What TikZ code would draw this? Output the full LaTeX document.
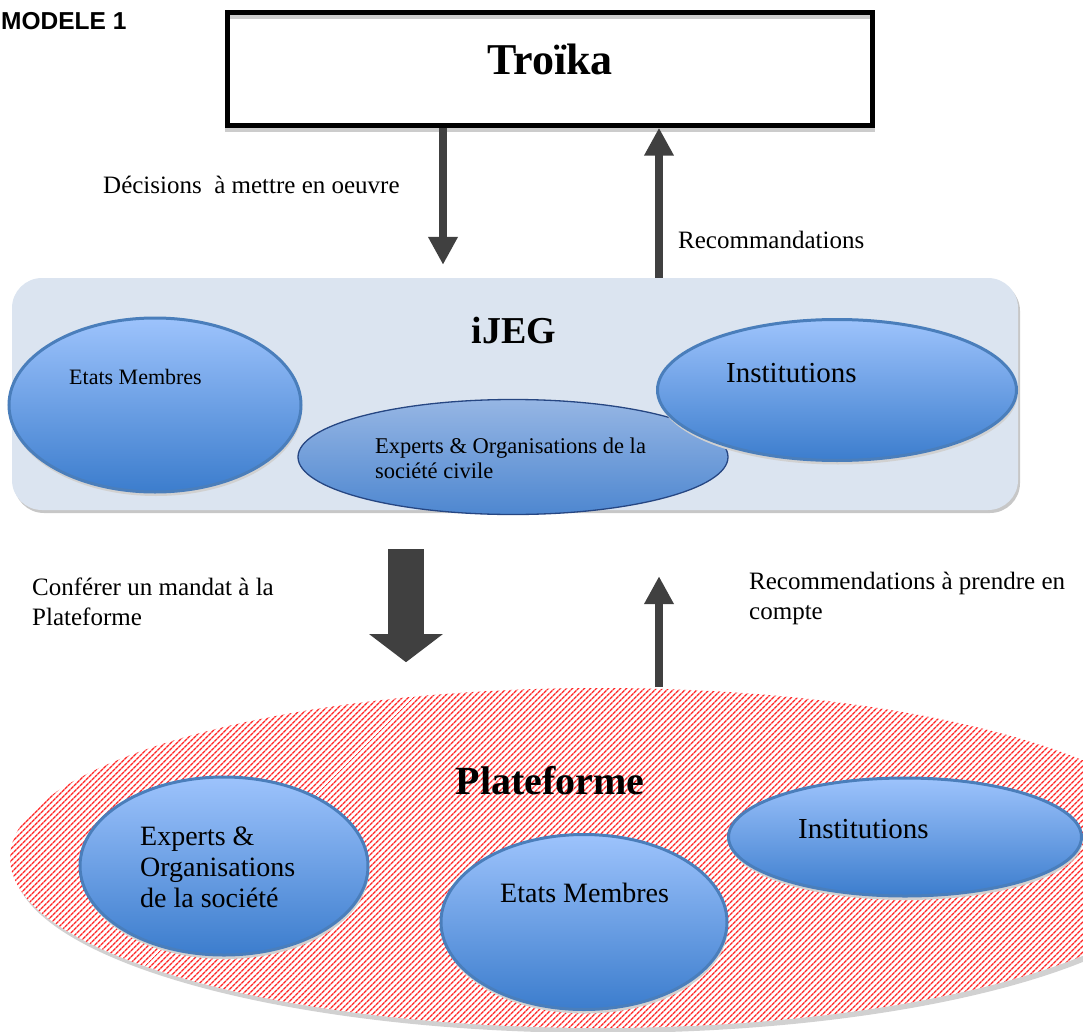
\documentclass[tikz,border=0pt]{standalone}
\usepackage{fontspec}
\setmainfont{Liberation Serif}
\newfontfamily\headfont{Liberation Sans}
\usetikzlibrary{shapes.geometric,arrows.meta,shadows,patterns.meta}
\definecolor{boxgrey}{RGB}{219,228,240}
\definecolor{ovaltop}{RGB}{157,195,252}
\definecolor{ovalbot}{RGB}{60,125,205}
\definecolor{ovalline}{RGB}{74,126,187}
\definecolor{civtop}{RGB}{150,182,228}
\definecolor{civbot}{RGB}{78,135,208}
\definecolor{civline}{RGB}{38,70,130}
\definecolor{arrgrey}{RGB}{64,64,64}
\tikzset{
  oval/.style={ellipse,draw=ovalline,line width=3pt,top color=ovaltop,bottom color=ovalbot,inner sep=0pt,
    drop shadow={shadow xshift=1pt,shadow yshift=-4pt,fill=black!18,opacity=1}},
  civoval/.style={ellipse,draw=civline,line width=1.3pt,top color=civtop,bottom color=civbot,inner sep=0pt},
  lbl/.style={anchor=west,align=left,inner sep=0pt,font=\fontsize{25}{30}\selectfont},
  bigtitle/.style={inner sep=0pt,font=\bfseries\fontsize{#1}{#1}\selectfont},
  thinarr/.style={arrgrey,line width=8pt,-{Triangle[width=28pt,length=28pt]}},
  bigarr/.style={arrgrey,line width=36pt,-{Triangle[width=72pt,length=28pt]}}
}
\begin{document}
\begin{tikzpicture}[x=1pt,y=-1pt]
  \useasboundingbox (0,0) rectangle (1083,1032);

  \node [anchor=west,inner sep=0pt,font=\headfont\bfseries\fontsize{24.5}{30}\selectfont] (modele) at (1,21) {MODELE 1};

  \node [draw,line width=4.5pt,minimum width=645pt,minimum height=113pt,
    general shadow={draw=black!20,fill=none,shadow yshift=-4pt,opacity=1}] (troika) at (550,69) {};
  \node [bigtitle=44] (troikatxt) at (550,59) {Troïka};

  \node [fill=boxgrey,rounded corners=30pt,minimum width=1006pt,minimum height=232pt,
    drop shadow={shadow xshift=2pt,shadow yshift=-3pt,fill=black!22,opacity=1}] (ijeg) at (515,394) {};
  \node [bigtitle=38] (ijegtxt) at (514,331) {iJEG};

  \node [ellipse,minimum width=1180pt,minimum height=340pt,
    drop shadow={shadow xshift=3pt,shadow yshift=-5pt,fill=black!18,opacity=1},
    preaction={fill=white},pattern={Lines[angle=45,distance=4pt,line width=1.6pt]},pattern color=red!85] (plat) at (600,858) {};
  \node [bigtitle=40] (plattxt) at (550,781) {Plateforme};

  \node [oval,minimum width=292pt,minimum height=174pt] (etatsA) at (155,405) {};
  \node [civoval,minimum width=430pt,minimum height=115pt] (civilA) at (513,457) {};
  \node [oval,minimum width=359pt,minimum height=141pt] (instA) at (837,390) {};
  \node [lbl,font=\fontsize{22}{26}\selectfont] (etatsAtxt) at (69,377) {Etats Membres};
  \node [lbl,font=\fontsize{22.5}{25}\selectfont] (civilAtxt) at (375,458) {Experts \& Organisations de la\\société civile};
  \node [lbl,font=\fontsize{29}{32}\selectfont] (instAtxt) at (726,373) {Institutions};

  \node [oval,minimum width=288pt,minimum height=178pt] (civilB) at (224,866) {};
  \node [oval,minimum width=353pt,minimum height=118pt] (instB) at (905,837) {};
  \node [oval,minimum width=286pt,minimum height=175pt] (etatsB) at (584,922) {};
  \node [lbl,font=\fontsize{28}{31}\selectfont] (civilBtxt) at (140,867) {Experts \&\\Organisations\\de la société};
  \node [lbl,font=\fontsize{28}{31}\selectfont] (etatsBtxt) at (500,893) {Etats Membres};
  \node [lbl,font=\fontsize{29}{32}\selectfont] (instBtxt) at (798,829) {Institutions};

  \coordinate (downx) at (443,0);
  \coordinate (upx) at (659,0);
  \coordinate (mandx) at (406,0);
  \draw [thinarr,shorten >=13pt] (troika.south -| downx) -- (ijeg.north -| downx);
  \draw [thinarr] (ijeg.north -| upx) -- (troika.south -| upx);
  \draw [bigarr,shorten <=39pt,shorten >=25pt] (ijeg.south -| mandx) -- (plat.north -| mandx);
  \draw [thinarr,shorten >=66pt] (plat.north -| upx) -- (ijeg.south -| upx);

  \node [lbl] (decide) at (103,185) {Décisions\ \ à mettre en oeuvre};
  \node [lbl] (recotop) at (678,240) {Recommandations};
  \node [lbl] (mandate) at (32,602) {Conférer un mandat à la\\Plateforme};
  \node [lbl] (recobot) at (749,598) {Recommendations à prendre en\\compte};
\end{tikzpicture}
\end{document}
